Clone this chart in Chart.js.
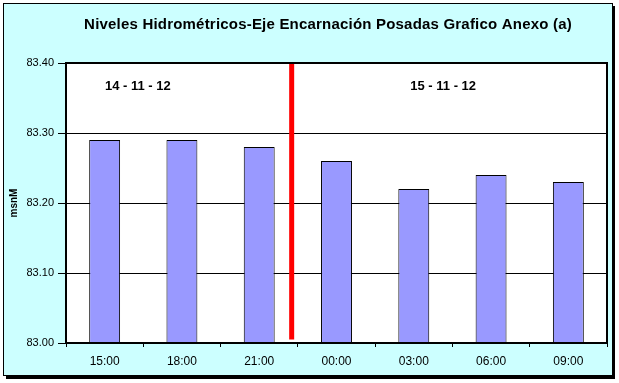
<!DOCTYPE html>
<html>
<head>
<meta charset="utf-8">
<script src="https://cdn.jsdelivr.net/npm/chart.js@4/dist/chart.umd.min.js"></script>
<style>
html,body{margin:0;padding:0;background:#fff;}
#wrap{width:619px;height:383px;position:relative;}
</style>
</head>
<body>
<div id="wrap"><canvas id="c" width="619" height="383"></canvas></div>
<script>
const categories = ['15:00','18:00','21:00','00:00','03:00','06:00','09:00'];
const levels = [83.29, 83.29, 83.28, 83.26, 83.22, 83.24, 83.23];
const yTicks = [83.00, 83.10, 83.20, 83.30, 83.40];
const dividerX = [2.42, 2.42];
const dividerY = [83.40, 83.005];
const dateLabels = ['14 - 11 - 12', '15 - 11 - 12'];
const dateLabelX = [0.43, 4.38];
const dateLabelY = 83.367;
const chartTitle = 'Niveles Hidrométricos-Eje Encarnación Posadas Grafico Anexo (a)';

const FONT = 'Arial, "Liberation Sans", sans-serif';

const framePlugin = {
  id: 'frame',
  beforeDraw(chart) {
    const ctx = chart.ctx;
    ctx.save();
    ctx.fillStyle = '#fff';
    ctx.fillRect(0, 0, chart.width, chart.height);
    ctx.fillStyle = '#000';
    ctx.fillRect(6, 6, 609, 373);
    ctx.fillStyle = '#CCFFFF';
    ctx.fillRect(3, 3, 610, 373);
    ctx.strokeStyle = '#000';
    ctx.lineWidth = 1;
    ctx.strokeRect(3.5, 3.5, 609, 372);
    const a = chart.chartArea;
    ctx.fillStyle = '#fff';
    ctx.fillRect(a.left, a.top, a.right - a.left, a.bottom - a.top);
    // title
    ctx.fillStyle = '#000';
    ctx.font = 'bold 15px ' + FONT;
    if ('letterSpacing' in ctx) ctx.letterSpacing = '0.2px';
    ctx.textAlign = 'center';
    ctx.textBaseline = 'middle';
    ctx.fillText(chartTitle, 328, 25);
    ctx.restore();
  },
  afterDatasetsDraw(chart) {
    const ctx = chart.ctx;
    const a = chart.chartArea;
    ctx.save();
    ctx.strokeStyle = '#000';
    ctx.lineWidth = 2;
    ctx.strokeRect(a.left, a.top, a.right - a.left, a.bottom - a.top);
    const xs = chart.scales.x2, ys = chart.scales.y;
    ctx.fillStyle = '#000';
    ctx.font = 'bold 13px ' + FONT;
    ctx.textAlign = 'center';
    ctx.textBaseline = 'middle';
    dateLabels.forEach((t, i) => {
      ctx.fillText(t, xs.getPixelForValue(dateLabelX[i]), ys.getPixelForValue(dateLabelY));
    });
    ctx.restore();
  }
};

new Chart(document.getElementById('c'), {
  data: {
    labels: categories,
    datasets: [
      {
        type: 'bar',
        data: levels,
        backgroundColor: '#9999FF',
        borderColor: '#000',
        borderWidth: 1,
        barPercentage: 0.4,
        categoryPercentage: 1,
        grouped: false,
        order: 2
      },
      {
        type: 'line',
        xAxisID: 'x2',
        data: dividerX.map((x, i) => ({x: x, y: dividerY[i]})),
        borderColor: '#FF0000',
        borderWidth: 5,
        borderCapStyle: 'butt',
        pointRadius: 0,
        fill: false,
        order: 1
      }
    ]
  },
  options: {
    responsive: false,
    animation: false,
    layout: { padding: { left: 0, right: 12, top: 63, bottom: 0 } },
    plugins: {
      legend: { display: false },
      tooltip: { enabled: false },
      title: { display: false }
    },
    scales: {
      x: {
        type: 'category',
        offset: true,
        grid: { display: true, drawOnChartArea: false, offset: true, color: '#000', tickLength: 4, tickWidth: 1 },
        border: { display: true, color: '#000', width: 2 },
        ticks: { color: '#000', font: { family: FONT, size: 12 }, padding: 7, maxRotation: 0 },
        afterFit(s) { s.height = 40; }
      },
      x2: {
        type: 'linear',
        display: false,
        min: -0.5,
        max: 6.5,
        offset: false
      },
      y: {
        min: 83.0,
        max: 83.4,
        afterBuildTicks(s) { s.ticks = yTicks.map(v => ({value: v})); },
        grid: { color: '#000', lineWidth: 1, tickLength: 8, drawTicks: true },
        border: { display: true, color: '#000', width: 2 },
        ticks: {
          color: '#000',
          font: { family: FONT, size: 11 },
          padding: 4,
          callback: v => Number(v).toFixed(2)
        },
        title: {
          display: true,
          text: 'msnM',
          color: '#000',
          font: { family: FONT, size: 10, weight: 'bold' },
          padding: { top: 8, bottom: 0 }
        },
        afterFit(s) { s.width = 66; }
      }
    }
  },
  plugins: [framePlugin]
});
</script>
</body>
</html>
